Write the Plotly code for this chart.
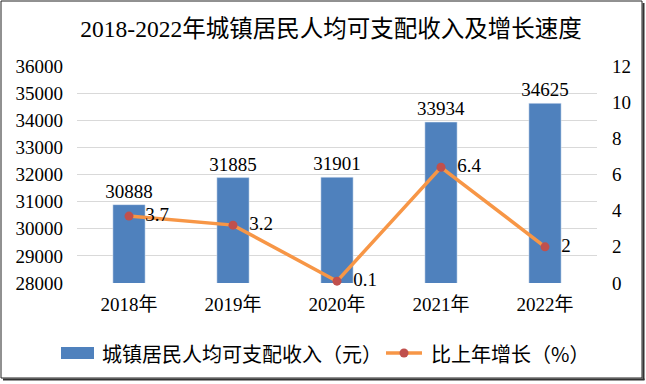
import plotly.graph_objects as go

years = ["2018年", "2019年", "2020年", "2021年", "2022年"]
income = [30888, 31885, 31901, 33934, 34625]
growth = [3.7, 3.2, 0.1, 6.4, 2]
growth_labels = ["3.7", "3.2", "0.1", "6.4", "2"]
series_names = ["城镇居民人均可支配收入（元）", "比上年增长（%）"]

W, H = 646, 384
L, R, T, B = 77, 49, 66, 101
pw, ph = W - L - R, H - T - B

def px(x):
    return (x - L) / pw

def py(y):
    return (H - B - y) / ph

serif = "Liberation Serif, Times New Roman, Noto Sans CJK SC"
sans = "Noto Sans CJK SC, Microsoft YaHei, sans-serif"
bar_color = "#4F81BD"
line_color = "#F79646"
marker_color = "#C0504D"

fig = go.Figure()
fig.add_trace(go.Bar(
    x=years, y=income, name=series_names[0],
    marker_color=bar_color, width=0.31,
    text=[str(v) for v in income], textposition="outside",
    constraintext="none",
    textfont=dict(family=serif, size=19, color="black"),
    cliponaxis=False,
))
fig.add_trace(go.Scatter(
    x=years, y=growth, yaxis="y2", name=series_names[1],
    mode="lines+markers+text",
    line=dict(color=line_color, width=3.5),
    marker=dict(color=marker_color, size=9),
    text=growth_labels, textposition="middle right",
    texttemplate="\u00a0\u00a0%{text}",
    textfont=dict(family=serif, size=19, color="black"),
    cliponaxis=False,
))

leg_y = 353
shapes = [
    dict(type="rect", xref="paper", yref="paper",
         x0=px(1), x1=px(642), y0=py(1), y1=py(378),
         line=dict(color="#222222", width=1), layer="below"),
    dict(type="line", xref="paper", yref="paper",
         x0=px(643.5), x1=px(643.5), y0=py(3), y1=py(380),
         line=dict(color="#333333", width=2)),
    dict(type="line", xref="paper", yref="paper",
         x0=px(3), x1=px(644.5), y0=py(379.5), y1=py(379.5),
         line=dict(color="#333333", width=2)),
    # legend symbols
    dict(type="rect", xref="paper", yref="paper",
         x0=px(61), x1=px(94), y0=py(leg_y - 6), y1=py(leg_y + 6),
         fillcolor=bar_color, line=dict(width=0)),
    dict(type="line", xref="paper", yref="paper",
         x0=px(386), x1=px(422), y0=py(leg_y), y1=py(leg_y),
         line=dict(color=line_color, width=3.5)),
    dict(type="circle", xref="paper", yref="paper",
         x0=px(399.5), x1=px(408.5), y0=py(leg_y - 4.5), y1=py(leg_y + 4.5),
         fillcolor=marker_color, line=dict(width=0)),
]

annotations = [
    dict(text=series_names[0], xref="paper", yref="paper",
         x=px(100), y=py(leg_y), xanchor="left", yanchor="middle",
         showarrow=False, font=dict(family=sans, size=20, color="black")),
    dict(text=series_names[1], xref="paper", yref="paper",
         x=px(429), y=py(leg_y), xanchor="left", yanchor="middle",
         showarrow=False, font=dict(family=sans, size=20, color="black")),
]

fig.update_layout(
    width=W, height=H,
    margin=dict(l=L, r=R, t=T, b=B, pad=0, autoexpand=False),
    paper_bgcolor="white", plot_bgcolor="white",
    title=dict(text="2018-2022年城镇居民人均可支配收入及增长速度",
               x=331 / W, xanchor="center", y=1 - 29 / H, yanchor="middle",
               font=dict(family=serif, size=23.5, color="black")),
    xaxis=dict(showgrid=False, showline=False, ticks="",
               ticklabelstandoff=8,
               tickfont=dict(family=serif, size=19, color="black")),
    yaxis=dict(range=[28000, 36000], dtick=1000, tickformat="d",
               showgrid=True, automargin=False,
               gridcolor="#D9D9D9", gridwidth=1, zeroline=False,
               showline=False, ticks="", ticklabelstandoff=13,
               tickfont=dict(family=serif, size=19, color="black")),
    yaxis2=dict(range=[0, 12], dtick=2, overlaying="y", side="right",
                showgrid=False, zeroline=False, showline=False, ticks="",
                ticklabelstandoff=14, automargin=False,
                tickfont=dict(family=serif, size=19, color="black")),
    showlegend=False,
    shapes=shapes,
    annotations=annotations,
)

fig.write_html("out.html", config={"displayModeBar": False},
               post_script="document.body.style.margin='0';document.body.style.padding='0';")
